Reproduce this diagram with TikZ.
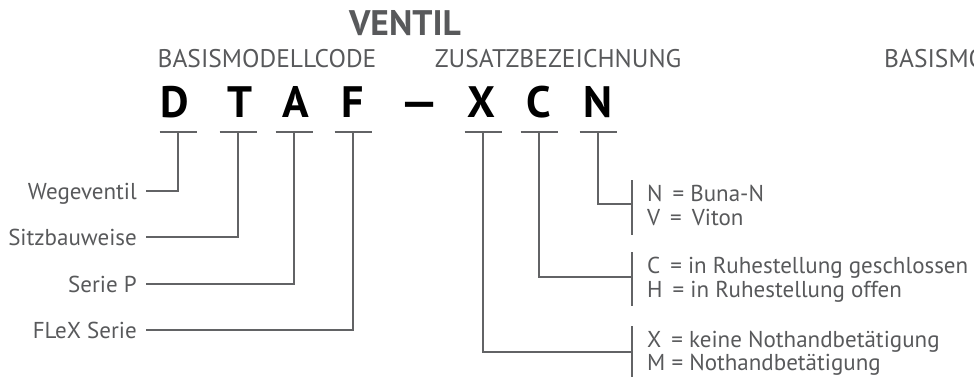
\documentclass[tikz,border=0pt]{standalone}
\usepackage{fontspec}
\setmainfont{PT Sans}
\usepackage{tikz}
\usetikzlibrary{calc}
\definecolor{txtgrey}{RGB}{88,89,91}
\definecolor{linegrey}{RGB}{98,99,101}

\begin{document}
\begin{tikzpicture}[
  x=1pt, y=-1pt,
  title/.style={font=\fontsize{35.5}{35.5}\selectfont\bfseries, text=txtgrey, inner sep=0pt},
  head/.style={font=\fontsize{25.5}{25.5}\selectfont, text=txtgrey, inner sep=0pt},
  code/.style={font=\fontsize{44}{44}\selectfont\bfseries, inner sep=0pt, anchor=base},
  lbl/.style={font=\fontsize{23}{23}\selectfont, text=txtgrey, inner sep=0pt},
  opt/.style={lbl, anchor=base west},
  conn/.style={draw=linegrey, line width=1.8pt}
]
\useasboundingbox (0,0) rectangle (974,376);
\clip (0,0) rectangle (974,376);

% ---------- titles ----------
\node[title, anchor=base] (ventil) at (405,35) {VENTIL};
\node[head, anchor=base] (basis) at (267,67) {BASISMODELLCODE};
\node[head, anchor=base] (zusatz) at (558,67) {ZUSATZBEZEICHNUNG};
\node[head, anchor=base west] (basis2) at (884,67) {BASISMODELLCODE};

% ---------- code letters with their ticks ----------
\foreach \n/\x/\s in {D/175/178,T/240/238,A/296/294,F/353/353,X/481/483,C/539/539,N/598/598}{
  \node[code] (\n) at (\x,117) {\n};
  \coordinate (tick\n) at (\s,132);
  \draw[conn] ([xshift=-18.5pt]tick\n) -- ([xshift=18.5pt]tick\n);
}
\node[code] (dash) at (420,117) {\scalebox{1.45}[1]{–}};

% ---------- basic model code (left) ----------
\node[lbl, anchor=base east] (wege) at (137,199) {Wegeventil};
\node[lbl, anchor=base east] (sitz) at (137,245) {Sitzbauweise};
\node[lbl, anchor=base east] (serie) at (137,292) {Serie P};
\node[lbl, anchor=base east] (flex) at (137,338) {FLeX Serie};

\draw[conn] ([shift={(9,-8)}]wege.base east) -| (tickD);
\draw[conn] ([shift={(9,-8)}]sitz.base east) -| (tickT);
\draw[conn] ([shift={(9,-8)}]serie.base east) -| (tickA);
\draw[conn] ([shift={(9,-8)}]flex.base east) -| (tickF);

% ---------- supplementary designation (right) ----------
\node[opt] (optN) at (647,201) {N\, = Buna-N};
\node[opt] (optV) at (647,225) {V\, = \,Viton};
\node[opt] (optC) at (647,273) {C\, = in Ruhestellung geschlossen};
\node[opt] (optH) at (647,297) {H\, = in Ruhestellung offen};
\node[opt] (optX) at (647,347) {X\, = keine Nothandbetätigung};
\node[opt] (optM) at (647,370) {M = Nothandbetätigung};

% brackets in front of each pair of options
\draw[conn] ([shift={(-15,-21)}]optN.base west) -- ([shift={(-15,10)}]optV.base west);
\draw[conn] ([shift={(-15,-21)}]optC.base west) -- ([shift={(-15,9)}]optH.base west);
\draw[conn] ([shift={(-15,-21)}]optX.base west) -- ([shift={(-15,9)}]optM.base west);

\draw[conn] (tickN) |- ([shift={(-15,3)}]optN.base west);
\draw[conn] (tickC) |- ([shift={(-15,4)}]optC.base west);
\draw[conn] (tickX) |- ([shift={(-15,5)}]optX.base west);

\end{tikzpicture}
\end{document}
